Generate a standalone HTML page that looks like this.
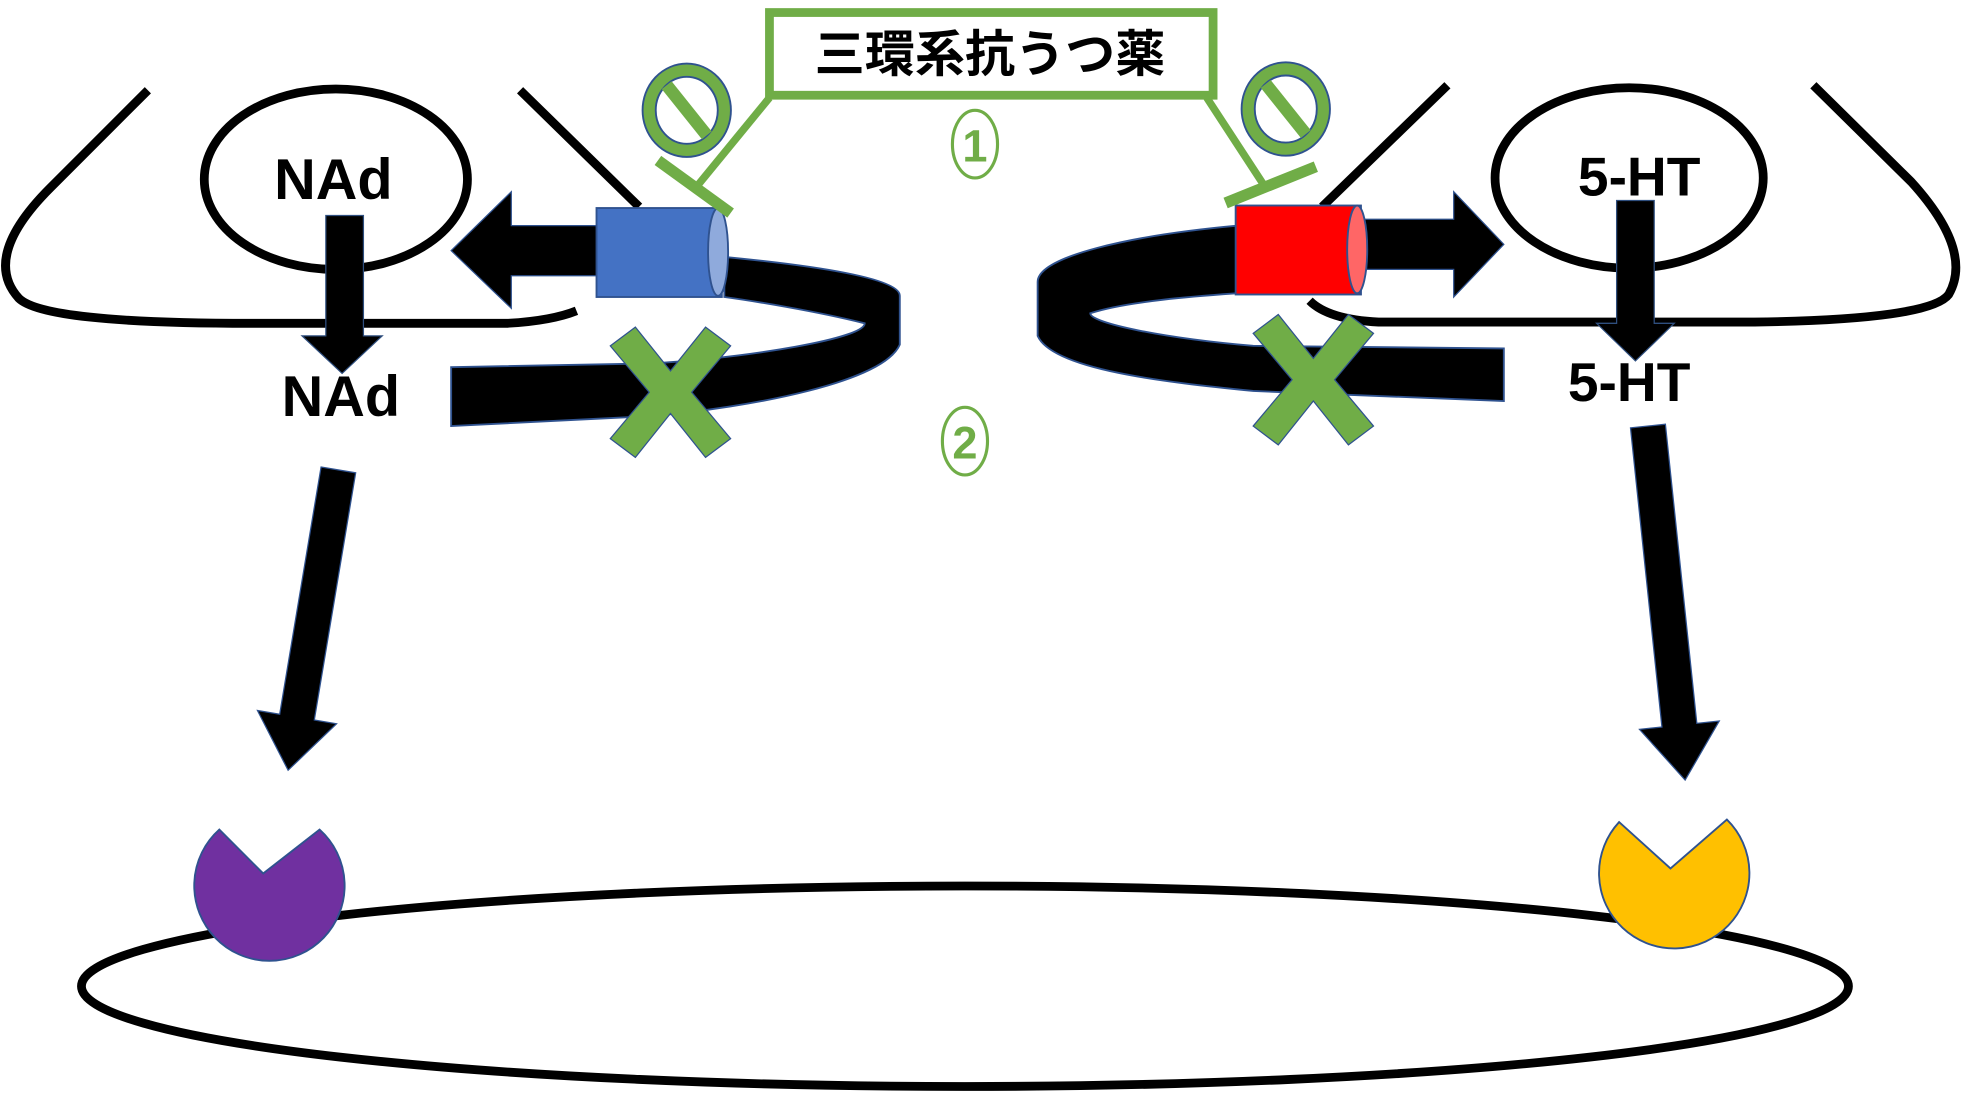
<!DOCTYPE html>
<html><head><meta charset="utf-8"><style>html,body{margin:0;padding:0;background:#fff;}svg{display:block}</style></head>
<body>
<svg width="1965" height="1094" viewBox="0 0 1568 873" preserveAspectRatio="none" xmlns="http://www.w3.org/2000/svg" font-family="'Liberation Sans','Noto Sans CJK JP',sans-serif">
<path d="M118,72 L40,150 Q-15,205 15,238 Q35,258 200,258 L405,258 Q440,256 460,248" fill="none" stroke="#000" stroke-width="7"/>
<path d="M415,72 L510,165" fill="none" stroke="#000" stroke-width="7"/>
<path d="M1155,68 L1055,165" fill="none" stroke="#000" stroke-width="7"/>
<path d="M1447,68 L1525,145 Q1575,200 1555,235 Q1540,255 1400,257 L1100,257 Q1060,255 1045,240" fill="none" stroke="#000" stroke-width="7"/>
<ellipse cx="268" cy="143" rx="105" ry="72" fill="#fff" stroke="#000" stroke-width="7"/>
<text x="266" y="159" font-size="46" font-weight="bold" text-anchor="middle">NAd</text>
<ellipse cx="1300" cy="142" rx="107" ry="72" fill="#fff" stroke="#000" stroke-width="7"/>
<text x="1308" y="156" font-size="44" font-weight="bold" text-anchor="middle">5-HT</text>
<polygon points="260,172 290,172 290,268 305,268 273,298 241,268 260,268" fill="#000" stroke="#2f4f7f" stroke-width="1"/>
<polygon points="1290,160 1320,160 1320,258 1336,258 1305,288 1274,258 1290,258" fill="#000" stroke="#2f4f7f" stroke-width="1"/>
<text x="272" y="332" font-size="46" font-weight="bold" text-anchor="middle">NAd</text>
<text x="1300" y="320" font-size="44" font-weight="bold" text-anchor="middle">5-HT</text>
<path d="M578,205 C650,212 718,222 718,236 L718,275 C705,305 600,325 520,332 L360,340 L360,293 L520,290 C600,285 690,270 690,258 C650,248 600,240 578,237 Z" fill="#000" stroke="#2f528f" stroke-width="1.5"/>
<polygon points="480,180 408,180 408,153 360,200 408,246 408,220 480,220" fill="#000" stroke="#2f528f" stroke-width="1"/>
<rect x="476" y="166" width="100" height="71" fill="#4472c4" stroke="#2f528f" stroke-width="1.5"/>
<ellipse cx="573" cy="201" rx="8" ry="35" fill="#8faadc" stroke="#2f528f" stroke-width="1.5"/>
<path d="M988,180 C900,188 828,205 828,225 L828,268 C840,295 930,305 1000,312 L1200,320 L1200,278 L1000,276 C930,270 870,258 870,250 C900,240 960,236 988,234 Z" fill="#000" stroke="#2f528f" stroke-width="1.5"/>
<polygon points="1088,175 1160,175 1160,153 1200,195 1160,237 1160,215 1088,215" fill="#000" stroke="#2f528f" stroke-width="1"/>
<rect x="986" y="164" width="100" height="71" fill="#ff0000" stroke="#2f528f" stroke-width="1.5"/>
<ellipse cx="1083" cy="199" rx="8" ry="35" fill="#ff6666" stroke="#2f528f" stroke-width="1.5"/>
<g transform="translate(535,313)"><polygon points="-48,-37 -28,-52 0,-17 28,-52 48,-37 17,0 48,37 28,52 0,17 -28,52 -48,37 -17,0" fill="#70ad47" stroke="#2f528f" stroke-width="1"/></g>
<g transform="translate(1048,303)"><polygon points="-48,-37 -28,-52 0,-17 28,-52 48,-37 17,0 48,37 28,52 0,17 -28,52 -48,37 -17,0" fill="#70ad47" stroke="#2f528f" stroke-width="1"/></g>
<rect x="614" y="10" width="354" height="66" fill="#fff" stroke="#70ad47" stroke-width="7"/>
<text x="790" y="57" font-size="40" font-weight="bold" text-anchor="middle">三環系抗うつ薬</text>
<path d="M614,78 L555,150" stroke="#70ad47" stroke-width="6" fill="none"/>
<path d="M525,128 L583,170" stroke="#70ad47" stroke-width="9" fill="none"/>
<path d="M963,78 L1010,150" stroke="#70ad47" stroke-width="6" fill="none"/>
<path d="M978,162 L1050,133" stroke="#70ad47" stroke-width="9" fill="none"/>
<g transform="translate(548,88)"><ellipse rx="30" ry="32" fill="none" stroke="#2f528f" stroke-width="12"/><ellipse rx="30" ry="32" fill="none" stroke="#70ad47" stroke-width="9"/><line x1="-16" y1="-20" x2="16" y2="20" stroke="#70ad47" stroke-width="10"/></g>
<g transform="translate(1026,87)"><ellipse rx="30" ry="32" fill="none" stroke="#2f528f" stroke-width="12"/><ellipse rx="30" ry="32" fill="none" stroke="#70ad47" stroke-width="9"/><line x1="-16" y1="-20" x2="16" y2="20" stroke="#70ad47" stroke-width="10"/></g>
<ellipse cx="778" cy="115" rx="18" ry="27" fill="none" stroke="#70ad47" stroke-width="2.5"/>
<text x="778" y="129" font-size="36" font-weight="bold" fill="#70ad47" text-anchor="middle">1</text>
<ellipse cx="770" cy="352" rx="18" ry="27" fill="none" stroke="#70ad47" stroke-width="2.5"/>
<text x="770" y="366" font-size="36" font-weight="bold" fill="#70ad47" text-anchor="middle">2</text>
<g transform="translate(270,375) rotate(9.5)"><polygon points="-14,0 14,0 14,200 32,200 0,243 -32,200 -14,200" fill="#000" stroke="#2f528f" stroke-width="1"/></g>
<g transform="translate(1315,340) rotate(-6)"><polygon points="-14,0 14,0 14,240 32,240 0,284 -32,240 -14,240" fill="#000" stroke="#2f528f" stroke-width="1"/></g>
<ellipse cx="770" cy="787" rx="705" ry="80" fill="#fff" stroke="#000" stroke-width="7"/>
<path d="M175,662 L210,697 L255,662 A60,60 0 1 1 175,662 Z" fill="#7030a0" stroke="#2f528f" stroke-width="1.5"/>
<path d="M1292,656 L1333,693 L1378,654 A60,60 0 1 1 1292,656 Z" fill="#ffc000" stroke="#2f528f" stroke-width="1.5"/>
</svg>
</body></html>
